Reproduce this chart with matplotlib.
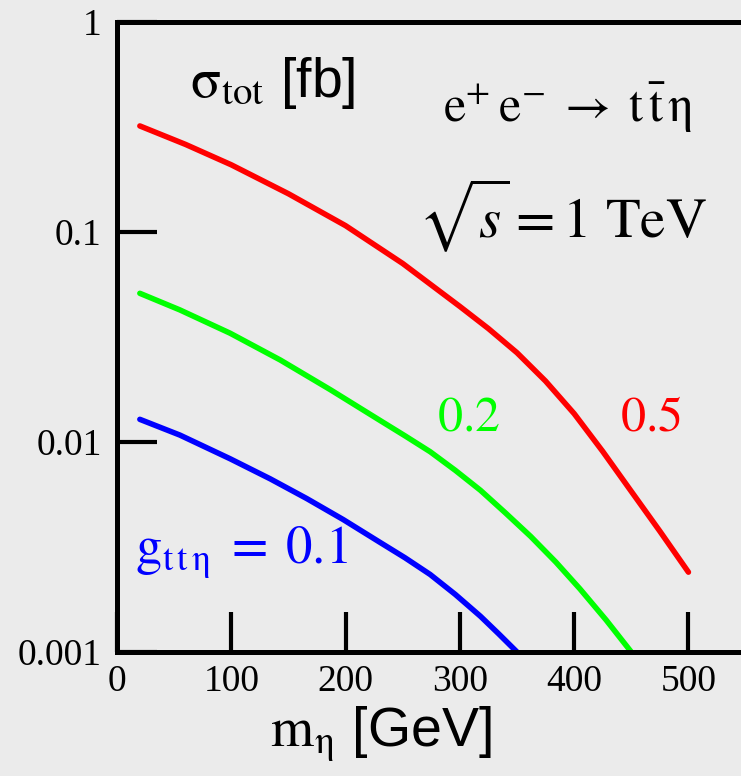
import matplotlib
matplotlib.use('Agg')
import matplotlib.pyplot as plt
from matplotlib.ticker import NullLocator, FixedLocator, FixedFormatter

# ---- data ----
m_red = [20, 60, 100, 150, 200, 250, 300, 325, 350, 375, 400, 425, 450, 475, 500]
sig_red = [0.3199, 0.2612, 0.2089, 0.1521, 0.1072, 0.0708, 0.0442, 0.03467,
           0.02661, 0.01950, 0.01365, 0.00902, 0.00582, 0.00376, 0.00240]

m_green = [20, 55, 99, 143, 187, 230, 252, 274, 296, 318, 340, 362, 384, 405, 428, 450]
sig_green = [0.05105, 0.04256, 0.03296, 0.02455, 0.01770, 0.01268, 0.01070,
             0.00899, 0.00733, 0.00589, 0.00459, 0.00355, 0.00268, 0.00200,
             0.00142, 0.001]

m_blue = [20, 55, 99, 134, 166, 198, 230, 252, 274, 296, 318, 334, 350]
sig_blue = [0.01282, 0.01079, 0.00832, 0.00668, 0.00538, 0.00427, 0.00333,
            0.00281, 0.00234, 0.00188, 0.00148, 0.00122, 0.001]

x_ticks = [0, 100, 200, 300, 400, 500]
x_ticklabels = ['0', '100', '200', '300', '400', '500']
y_ticks = [0.001, 0.01, 0.1, 1]
y_ticklabels = ['0.001', '0.01', '0.1', '1']

plt.rcParams['mathtext.fontset'] = 'stix'

W, H = 741, 776
fig = plt.figure(figsize=(W / 100, H / 100), dpi=100)
bg = '#ebebeb'
fig.patch.set_facecolor(bg)

left, bottom = 117 / W, (H - 652) / H
height = (652 - 22) / H
width = 640 / W
ax = fig.add_axes([left, bottom, width, height])
ax.set_facecolor(bg)

lw = 4.0
for xs, ys, c in [(m_red, sig_red, '#ff0000'),
                  (m_green, sig_green, '#00ff00'),
                  (m_blue, sig_blue, '#0000ff')]:
    ax.plot(xs, ys, color=c, lw=lw, solid_capstyle='round',
            solid_joinstyle='round')

ax.set_yscale('log')
ax.set_xlim(0, 560)
ax.set_ylim(0.001, 1)

ax.xaxis.set_major_locator(FixedLocator(x_ticks))
ax.xaxis.set_major_formatter(FixedFormatter(x_ticklabels))
ax.yaxis.set_major_locator(FixedLocator(y_ticks))
ax.yaxis.set_major_formatter(FixedFormatter(y_ticklabels))
ax.yaxis.set_minor_locator(NullLocator())
ax.xaxis.set_minor_locator(NullLocator())

for s in ['left', 'bottom', 'top']:
    ax.spines[s].set_linewidth(3.6)
    ax.spines[s].set_color('black')
ax.spines['right'].set_visible(False)

ax.tick_params(axis='both', which='major', direction='in', length=29, width=3,
               color='black', labelsize=27)
ax.tick_params(axis='x', pad=9)
ax.tick_params(axis='y', pad=11)
for lab in ax.get_xticklabels() + ax.get_yticklabels():
    lab.set_fontfamily('Liberation Serif')

# ---- annotations ----
ax.text(64, 0.44, r'$\mathrm{\sigma}_{\mathrm{tot}}$ [fb]', fontsize=40,
        family='Liberation Sans', va='baseline', ha='left')
ax.text(285, 0.334,
        r'$\mathrm{e}^{+}\,\mathrm{e}^{-}\;\rightarrow\;\mathrm{t}\,\bar{\mathrm{t}}\,\mathrm{\eta}$',
        fontsize=36, va='baseline', ha='left')
ax.text(263, 0.0945, r'$\sqrt{s}=1\ \mathrm{TeV}$', fontsize=41,
        va='baseline', ha='left')
ax.text(280, 0.0114, r'$\mathrm{0.2}$', fontsize=36, color='#00ff00',
        va='baseline', ha='left')
ax.text(440, 0.0114, r'$\mathrm{0.5}$', fontsize=36, color='#ff0000',
        va='baseline', ha='left')
ax.text(16, 0.00267, r'$\mathrm{g}_{\mathrm{t\,t\,\eta}}\;=\;0.1$', fontsize=38,
        color='#0000ff', va='baseline', ha='left')

fig.text(381 / W, (H - 746) / H, r'$\mathrm{m}_{\mathrm{\eta}}$ [GeV]', fontsize=40,
         family='Liberation Sans', va='baseline', ha='center')

fig.savefig('out.png', dpi=100, facecolor=bg)
